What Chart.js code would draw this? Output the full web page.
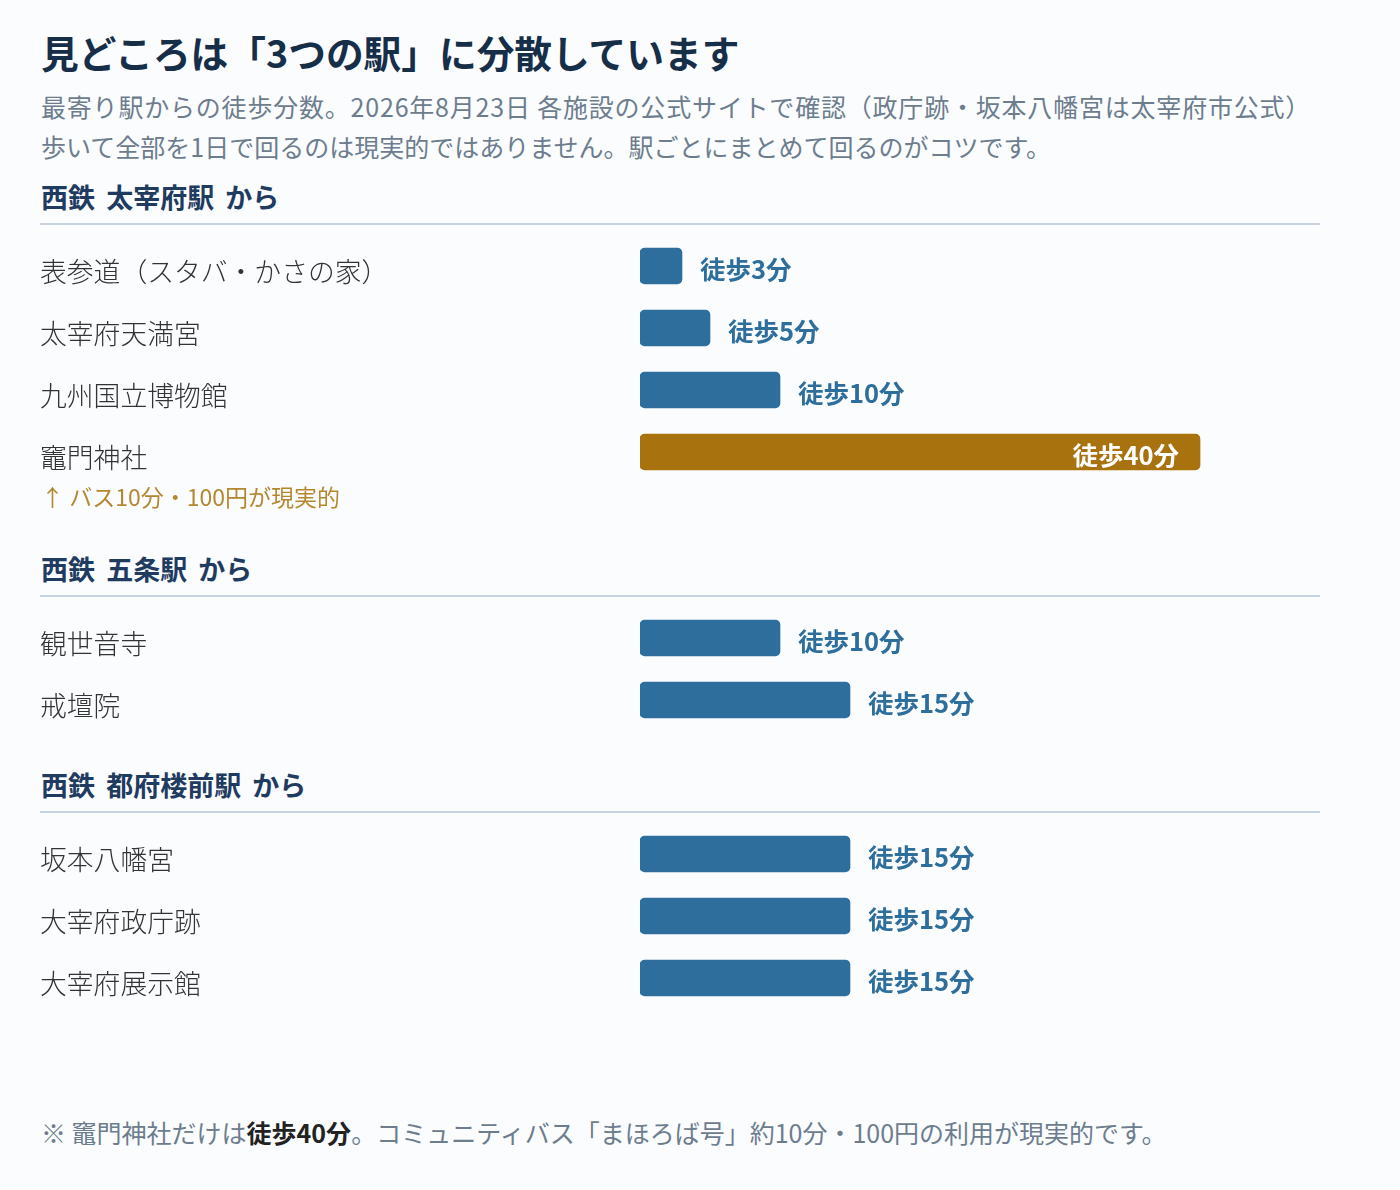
<!DOCTYPE html>
<html lang="ja">
<head>
<meta charset="utf-8">
<script src="https://cdn.jsdelivr.net/npm/chart.js@4"></script>
<style>
  *{text-spacing-trim:space-all;}
  html,body{margin:0;padding:0;background:#fafcfe;}
  body{width:1400px;height:1190px;position:relative;overflow:hidden;font-family:"Noto Sans CJK JP","Noto Sans",sans-serif;}
  .abs{position:absolute;white-space:nowrap;}
  #title{left:41px;top:27px;font-size:37.7px;font-weight:700;color:#162e48;line-height:50px;}
  .sub{left:41px;font-size:25px;color:#6d7d8e;line-height:36px;}
  .sec{left:41px;font-size:27px;font-weight:700;color:#1f3b5f;line-height:36px;word-spacing:5px;}
  .rule{position:absolute;left:40px;width:1280px;height:2px;background:#c7d4df;}
  .chartbox{position:absolute;left:40px;width:1300px;}
  #note{left:41px;top:480px;font-size:23px;color:#b5872f;line-height:32px;}
  #foot{left:41px;top:1114px;font-size:25px;color:#6d7d8e;line-height:36px;}
  #foot b{color:#222;font-weight:700;}
</style>
</head>
<body>
<div id="title" class="abs">見どころは「3つの駅」に分散しています</div>
<div class="abs sub" style="top:88px;letter-spacing:0.8px">最寄り駅からの徒歩分数。2026年8月23日 各施設の公式サイトで確認（政庁跡・坂本八幡宮は太宰府市公式）</div>
<div class="abs sub" style="top:128px">歩いて全部を1日で回るのは現実的ではありません。駅ごとにまとめて回るのがコツです。</div>

<div class="abs sec" style="top:179px">西鉄 太宰府駅 から</div>
<div class="rule" style="top:223px"></div>
<div class="chartbox" style="top:235px;height:248px"><canvas id="c1"></canvas></div>
<div id="note" class="abs">↑ バス10分・100円が現実的</div>

<div class="abs sec" style="top:551px">西鉄 五条駅 から</div>
<div class="rule" style="top:595px"></div>
<div class="chartbox" style="top:607px;height:124px"><canvas id="c2"></canvas></div>

<div class="abs sec" style="top:767px">西鉄 都府楼前駅 から</div>
<div class="rule" style="top:811px"></div>
<div class="chartbox" style="top:823px;height:186px"><canvas id="c3"></canvas></div>

<div id="foot" class="abs">※ 竈門神社だけは<b>徒歩40分</b>。コミュニティバス「まほろば号」約10分・100円の利用が現実的です。</div>

<script>
// ---- data ----
const dazaifuLabels = ["表参道（スタバ・かさの家）", "太宰府天満宮", "九州国立博物館", "竈門神社"];
const dazaifuMinutes = [3, 5, 10, 40];
const gojoLabels = ["観世音寺", "戒壇院"];
const gojoMinutes = [10, 15];
const tofuroLabels = ["坂本八幡宮", "大宰府政庁跡", "大宰府展示館"];
const tofuroMinutes = [15, 15, 15];
const highlightThreshold = 40; // 徒歩40分 = bus recommended
const valuePrefix = "徒歩";
const valueSuffix = "分";

const BLUE = "#2e6e9c";
const GOLD = "#a8720f";
const FONT = '"Noto Sans CJK JP","Noto Sans",sans-serif';

// category labels (left) + value labels, positioned via the chart's own scales
const labelPlugin = {
  id: "rowLabels",
  afterDatasetsDraw(chart) {
    const ctx = chart.ctx;
    const yScale = chart.scales.y;
    const meta = chart.getDatasetMeta(0);
    const data = chart.data.datasets[0].data;
    ctx.save();
    ctx.textBaseline = "middle";
    // category names
    ctx.font = "300 26.8px " + FONT;
    ctx.fillStyle = "#333333";
    ctx.textAlign = "left";
    chart.data.labels.forEach((lab, i) => {
      ctx.fillText(lab, 0, yScale.getPixelForValue(i) + 6);
    });
    // values
    ctx.font = "700 25.5px " + FONT;
    meta.data.forEach((bar, i) => {
      const v = data[i];
      const txt = valuePrefix + v + valueSuffix;
      const y = bar.y + 3;
      if (v >= highlightThreshold) {
        ctx.fillStyle = "#ffffff";
        ctx.textAlign = "right";
        ctx.fillText(txt, bar.x - 21, y);
      } else {
        ctx.fillStyle = BLUE;
        ctx.textAlign = "left";
        ctx.fillText(txt, bar.x + 18, y);
      }
    });
    ctx.restore();
  }
};

function makeChart(id, labels, values) {
  new Chart(document.getElementById(id), {
    type: "bar",
    data: {
      labels: labels,
      datasets: [{
        data: values,
        backgroundColor: values.map(v => v >= highlightThreshold ? GOLD : BLUE),
        borderRadius: 5,
        borderSkipped: false,
        barThickness: 36
      }]
    },
    options: {
      indexAxis: "y",
      responsive: true,
      maintainAspectRatio: false,
      animation: false,
      layout: { padding: { left: 600, right: 0, top: 0, bottom: 0 } },
      plugins: { legend: { display: false }, tooltip: { enabled: false } },
      scales: {
        x: { min: 0, max: 50, display: false },
        y: { display: false }
      }
    },
    plugins: [labelPlugin]
  });
}

makeChart("c1", dazaifuLabels, dazaifuMinutes);
makeChart("c2", gojoLabels, gojoMinutes);
makeChart("c3", tofuroLabels, tofuroMinutes);
</script>
</body>
</html>
